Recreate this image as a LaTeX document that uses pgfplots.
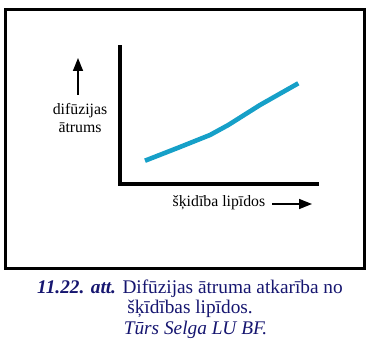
\documentclass[border=0pt]{standalone}
\usepackage{pgfplots}
\pgfplotsset{compat=1.18}
\usepackage{fontspec}
\setmainfont{Liberation Serif}
\usetikzlibrary{arrows.meta}

\definecolor{curvecyan}{RGB}{22,160,200}
\definecolor{captionnavy}{RGB}{22,22,112}

\begin{document}
\begin{tikzpicture}[x=1pt,y=1pt]
  \useasboundingbox (0,0) rectangle (390,354);
  % outer frame
  \draw[line width=2.6pt] (5.5,344.5) rectangle (364.7,85.7);

  \begin{axis}[
    at={(120pt,170pt)}, anchor=south west,
    scale only axis, width=197pt, height=137pt,
    xmin=0, xmax=197, ymin=0, ymax=137,
    axis lines=left,
    axis line style={-, line width=4.6pt, line cap=rect},
    ticks=none,
    clip=false,
    xlabel={šķidība lipīdos},
    ylabel={difūzijas\\ātrums},
    xlabel style={at={(axis description cs:0.5025,-0.139)}, anchor=center,
      font=\fontsize{15.8}{18}\selectfont},
    ylabel style={at={(axis description cs:-0.203,0.482)}, anchor=center,
      rotate=-90, align=center, font=\fontsize{15.8}{18}\selectfont},
  ]
    % diffusion rate vs. lipid fluidity
    \addplot[curvecyan, line width=4.6pt, line cap=butt, line join=round]
      coordinates {(25,23.3) (56.7,35.7) (90,49) (108.3,59) (140,79) (178.3,100.7)};
  \end{axis}

  % direction arrows
  \draw[line width=1.5pt, -{Triangle[length=13pt,width=10pt]}] (78,259) -- (78,296);
  \draw[line width=1.5pt, -{Triangle[length=13pt,width=10pt]}] (272,150) -- (312,150);

  % caption
  \begin{scope}[font=\fontsize{19.3}{22}\selectfont, text=captionnavy]
    \node[anchor=base] at (190,61) {\textbf{\textit{11.22. att.}} Difūzijas ātruma atkarība no};
    \node[anchor=base] at (190,41) {šķīdības lipīdos.};
    \node[anchor=base] at (195.5,20) {\textit{Tūrs Selga LU BF.}};
  \end{scope}
\end{tikzpicture}
\end{document}
